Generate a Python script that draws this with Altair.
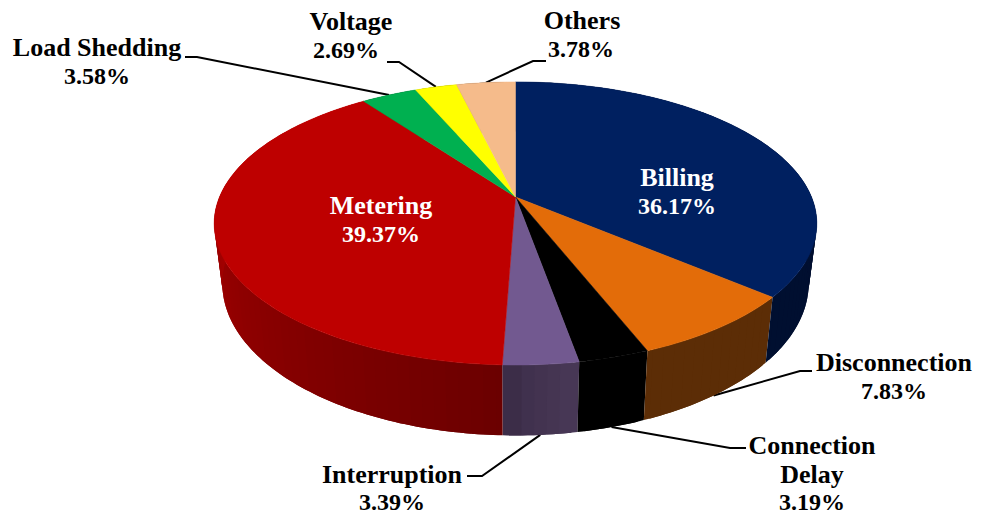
import math
import altair as alt

# Share of complaints per category, clockwise from twelve o'clock
categories = ["Billing", "Disconnection", "Connection Delay", "Interruption",
              "Metering", "Load Shedding", "Voltage", "Others"]
shares = [36.17, 7.83, 3.19, 3.39, 39.37, 3.58, 2.69, 3.78]

# Colours: top face, and the wall at the start and end of each slice
top_colors = ["#002060", "#E36C09", "#000000", "#725990",
              "#BE0000", "#00B050", "#FFFF00", "#F5BB8B"]
wall_start = ["#000F30", "#5C2D06", "#000000", "#473755",
              "#6B0000", "#005828", "#808000", "#7A5E46"]
wall_end = ["#000F30", "#5C2D06", "#000000", "#3A2B46",
            "#C70000", "#005828", "#808000", "#7A5E46"]

# Perspective of the disc: rim planes share a depth factor
PERSPECTIVE = 0.187
TOP_PLANE = {"cx": 515.5, "cy": 197.0, "fx": 296.0, "fy": 136.6}
BOTTOM_PLANE = {"cx": 515.5, "cy": 255.0, "fx": 288.0, "fy": 146.7}

# Label layout: text lines, centre of the first line, extra offset of the value line
label_lines = [["Billing"], ["Disconnection"], ["Connection", "Delay"], ["Interruption"],
               ["Metering"], ["Load Shedding"], ["Voltage"], ["Others"]]
label_x = [677, 894, 812, 392, 381, 97, 351, 582]
label_y = [178, 363, 446, 474.5, 206, 48, 22, 21]
value_dx = [0, 0, 0, 0, 0, 0, -5, -1]
label_color = ["white", "black", "black", "black", "white", "black", "black", "black"]
LINE_GAP = 28.5
NAME_SIZE = 26
VALUE_SIZE = 24

# Leader lines: elbow points, and which rim the line starts from
leader_elbows = {
    "Disconnection": [(800, 371), (812, 371)],
    "Connection Delay": [(730, 448), (746, 448)],
    "Interruption": [(482, 476), (467, 476)],
    "Load Shedding": [(197, 57), (185, 57)],
    "Voltage": [(399, 62), (387, 62)],
    "Others": [(533, 61), (546, 61)],
}
lower_rim_leaders = {"Disconnection", "Connection Delay", "Interruption"}


def rim(plane, theta):
    w = 1 + PERSPECTIVE * math.cos(theta)
    return [plane["cx"] + plane["fx"] * math.sin(theta) / w,
            plane["cy"] - plane["fy"] * math.cos(theta) / w]


def mix(a, b, t):
    ca = [int(a[i:i + 2], 16) for i in (1, 3, 5)]
    cb = [int(b[i:i + 2], 16) for i in (1, 3, 5)]
    return "#%02x%02x%02x" % tuple(round(x + (y - x) * t) for x, y in zip(ca, cb))


def polygon(ring, fill, order):
    return {"type": "Feature",
            "geometry": {"type": "Polygon", "coordinates": [ring + [ring[0]]]},
            "properties": {"fill": fill, "order": order}}


total = sum(shares)
edges = [0.0]
for s in shares:
    edges.append(edges[-1] + s / total * 2 * math.pi)

walls, tops, leaders = [], [], []
for i, name in enumerate(categories):
    a0, a1 = edges[i], edges[i + 1]
    steps = max(4, int((a1 - a0) / math.radians(2)))
    step = (a1 - a0) / steps
    angles = [a0 + step * k for k in range(steps + 1)]
    tops.append(polygon([[TOP_PLANE["cx"], TOP_PLANE["cy"]]] + [rim(TOP_PLANE, a) for a in angles],
                        top_colors[i], i))
    for k in range(steps):
        # Each facet laps over its neighbours so no seams show between them
        p = max(a0, angles[k] - 0.5 * step)
        q = min(a1, angles[k + 1] + 0.5 * step)
        arc = [p + (q - p) * n / 4 for n in range(5)]
        ring = [rim(TOP_PLANE, a) for a in arc] + [rim(BOTTOM_PLANE, a) for a in reversed(arc)]
        walls.append(polygon(ring, mix(wall_start[i], wall_end[i], k / steps),
                             -math.cos(angles[k] + step / 2)))
    if name in leader_elbows:
        plane = BOTTOM_PLANE if name in lower_rim_leaders else TOP_PLANE
        path = [rim(plane, (a0 + a1) / 2)] + [list(e) for e in leader_elbows[name]]
        leaders.append({"type": "Feature",
                        "geometry": {"type": "LineString", "coordinates": path},
                        "properties": {"name": name}})

# Far walls first, so the near ones paint over them
walls.sort(key=lambda f: -f["properties"]["order"])

text_rows = []
for i, lines in enumerate(label_lines):
    for j, line in enumerate(lines):
        text_rows.append({"t": line, "x": label_x[i], "y": label_y[i] + j * LINE_GAP,
                          "c": label_color[i], "s": NAME_SIZE})
    text_rows.append({"t": f"{shares[i]:.2f}%", "x": label_x[i] + value_dx[i],
                      "y": label_y[i] + len(lines) * LINE_GAP, "c": label_color[i], "s": VALUE_SIZE})

PROJECTION = {"type": "identity", "scale": 1, "translate": [0, 0]}

leader_layer = alt.Chart(alt.Data(values=leaders)).mark_geoshape(
    filled=False, stroke="black", strokeWidth=2
).project(**PROJECTION)

wall_layer = alt.Chart(alt.Data(values=walls)).mark_geoshape(strokeWidth=0).encode(
    fill=alt.Fill("properties.fill:N", scale=None),
).project(**PROJECTION)

top_layer = alt.Chart(alt.Data(values=tops)).mark_geoshape(strokeWidth=0.5).encode(
    fill=alt.Fill("properties.fill:N", scale=None),
    stroke=alt.Stroke("properties.fill:N", scale=None),
).project(**PROJECTION)

text_layer = alt.Chart(alt.Data(values=text_rows)).mark_text(
    font="Liberation Serif", fontWeight="bold", baseline="middle", align="center"
).encode(
    x=alt.X("x:Q", scale=None),
    y=alt.Y("y:Q", scale=None),
    text="t:N",
    color=alt.Color("c:N", scale=None),
    size=alt.Size("s:Q", scale=None),
)

chart = alt.layer(leader_layer, wall_layer, top_layer, text_layer).properties(
    width=981, height=515, padding=0, autosize=alt.AutoSizeParams(type="none"), background="white"
).configure_view(stroke=None)

chart.save("out.html", embed_options={"renderer": "svg", "actions": False})
